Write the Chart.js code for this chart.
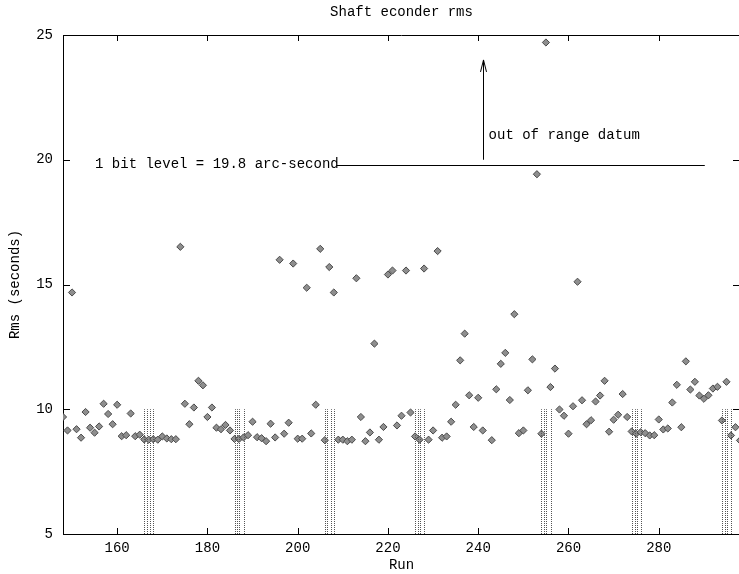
<!DOCTYPE html>
<html>
<head>
<meta charset="utf-8">
<title>Shaft econder rms</title>
<script src="https://cdn.jsdelivr.net/npm/chart.js@4.4.1/dist/chart.umd.min.js"></script>
<style>
  html, body { margin: 0; padding: 0; background: #fff; overflow: hidden; }
  #wrap { width: 745px; height: 574px; }
</style>
</head>
<body>
<div id="wrap"><canvas id="rms" width="745" height="574"></canvas></div>
<script>
// run numbers and the encoder rms for each run
const runs = [
    148, 149, 150, 151, 152, 153, 154, 155, 156, 157,
    158, 159, 160, 161, 162, 163, 164, 165, 166, 167,
    168, 169, 170, 171, 172, 173, 174, 175, 176, 177,
    178, 179, 180, 181, 182, 183, 184, 185, 186, 187,
    188, 189, 190, 191, 192, 193, 194, 195, 196, 197,
    198, 199, 200, 201, 202, 203, 204, 205, 206, 207,
    208, 209, 210, 211, 212, 213, 214, 215, 216, 217,
    218, 219, 220, 221, 222, 223, 224, 225, 226, 227,
    228, 229, 230, 231, 232, 233, 234, 235, 236, 237,
    238, 239, 240, 241, 243, 244, 245, 246, 247, 248,
    249, 250, 251, 252, 253, 254, 255, 256, 257, 258,
    259, 260, 261, 262, 263, 264, 265, 266, 267, 268,
    269, 270, 271, 272, 273, 274, 275, 276, 277, 278,
    279, 280, 281, 282, 283, 284, 285, 286, 287, 288,
    289, 290, 291, 292, 293, 294, 295, 296, 297, 298,
];
const rmsSeconds = [
    9.69, 9.15, 14.68, 9.2, 8.86, 9.89, 9.26, 9.06, 9.31, 10.22,
    9.81, 9.4, 10.18, 8.92, 8.96, 9.83, 8.92, 8.98, 8.79, 8.78,
    8.8, 8.78, 8.91, 8.83, 8.8, 8.8, 16.51, 10.22, 9.4, 10.07,
    11.14, 10.96, 9.69, 10.07, 9.26, 9.2, 9.37, 9.15, 8.81, 8.81,
    8.87, 8.96, 9.5, 8.88, 8.84, 8.72, 9.42, 8.87, 15.99, 9.02,
    9.46, 15.84, 8.82, 8.82, 14.87, 9.03, 10.18, 16.43, 8.76, 15.7,
    14.68, 8.78, 8.78, 8.72, 8.78, 15.25, 9.69, 8.72, 9.07, 12.63,
    8.78, 9.29, 15.4, 15.56, 9.35, 9.74, 15.56, 9.87, 8.91, 8.78,
    15.64, 8.78, 9.15, 16.34, 8.86, 8.91, 9.5, 10.18, 11.96, 13.03,
    10.56, 9.29, 10.46, 9.15, 8.76, 10.8, 11.82, 12.26, 10.37, 13.81,
    9.04, 9.15, 10.76, 12.0, 19.42, 9.02, 24.7, 10.89, 11.63, 9.99,
    9.74, 9.02, 10.12, 15.11, 10.36, 9.4, 9.56, 10.31, 10.55, 11.14,
    9.1, 9.58, 9.78, 10.61, 9.69, 9.11, 9.02, 9.08, 9.04, 8.95,
    8.96, 9.59, 9.19, 9.23, 10.27, 10.98, 9.28, 11.92, 10.79, 11.1,
    10.55, 10.42, 10.56, 10.83, 10.9, 9.55, 11.1, 8.95, 9.28, 8.75,
];

const xTickValues = [160, 180, 200, 220, 240, 260, 280];
const yTickValues = [5, 10, 15, 20, 25];

// dotted marker lines, four per group, drawn from the axis up to markerTop
const markerRuns = [
    166, 166.6, 167.25, 168,
    186, 186.55, 187.05, 188,
    206, 206.6, 207.3, 208,
    226, 226.6, 227.2, 227.9,
    253.9, 254.5, 255.05, 256.1,
    274.1, 274.7, 275.2, 276.1,
    294, 294.6, 295.2, 296.1,
];
const markerTop = 10;

// 1 bit level line and its label
const bitLevel = 19.8;
const bitLevelSpan = [208.7, 290.2];
const bitLevelLabel = "1 bit level = 19.8 arc-second";
const bitLevelLabelRun = 155.1;

// arrow pointing at the datum that is off the scale
const arrowRun = 241;
const arrowSpan = [20, 24];
const arrowLabel = "out of range datum";
const arrowLabelAt = [242.3, 21];

const FONT = { family: "'Liberation Mono', 'DejaVu Sans Mono', monospace", size: 14 };
const INK = "#000";

const gnuplotMarks = {
    id: "gnuplotMarks",
    afterDatasetsDraw(chart) {
        const { ctx, chartArea: a, scales } = chart;
        const x = scales.x;
        const y = scales.y;
        const snap = (v) => Math.round(v) + 0.5;

        ctx.save();
        ctx.strokeStyle = INK;
        ctx.lineWidth = 1;

        // top and right frame
        ctx.beginPath();
        ctx.moveTo(a.left, snap(a.top));
        ctx.lineTo(a.right, snap(a.top));
        ctx.moveTo(snap(a.right), a.top);
        ctx.lineTo(snap(a.right), a.bottom);
        ctx.stroke();

        // tick marks point into the plot on all four sides
        ctx.beginPath();
        xTickValues.forEach((v) => {
            const px = snap(x.getPixelForValue(v));
            ctx.moveTo(px, a.bottom);
            ctx.lineTo(px, a.bottom - 6);
            ctx.moveTo(px, a.top);
            ctx.lineTo(px, a.top + 6);
        });
        yTickValues.forEach((v) => {
            const py = snap(y.getPixelForValue(v));
            ctx.moveTo(a.left, py);
            ctx.lineTo(a.left + 7, py);
            ctx.moveTo(a.right, py);
            ctx.lineTo(a.right - 7, py);
        });
        ctx.stroke();

        // dotted marker lines
        ctx.save();
        ctx.strokeStyle = "#555";
        ctx.setLineDash([1, 1]);
        ctx.beginPath();
        markerRuns.forEach((r) => {
            const px = snap(x.getPixelForValue(r));
            ctx.moveTo(px, a.bottom);
            ctx.lineTo(px, y.getPixelForValue(markerTop));
        });
        ctx.stroke();
        ctx.restore();

        // 1 bit level line
        const lvl = snap(y.getPixelForValue(bitLevel));
        ctx.beginPath();
        ctx.moveTo(x.getPixelForValue(bitLevelSpan[0]), lvl);
        ctx.lineTo(x.getPixelForValue(bitLevelSpan[1]), lvl);
        ctx.stroke();

        // arrow
        const ax = snap(x.getPixelForValue(arrowRun));
        const ay0 = y.getPixelForValue(arrowSpan[0]);
        const ay1 = y.getPixelForValue(arrowSpan[1]);
        ctx.beginPath();
        ctx.moveTo(ax, ay0);
        ctx.lineTo(ax, ay1);
        ctx.moveTo(ax - 3, ay1 + 12);
        ctx.lineTo(ax, ay1);
        ctx.lineTo(ax + 3, ay1 + 12);
        ctx.stroke();

        // labels
        ctx.fillStyle = INK;
        ctx.font = FONT.size + "px " + FONT.family;
        ctx.textAlign = "left";
        ctx.textBaseline = "middle";
        ctx.fillText(bitLevelLabel, x.getPixelForValue(bitLevelLabelRun), y.getPixelForValue(bitLevel));
        ctx.fillText(arrowLabel, x.getPixelForValue(arrowLabelAt[0]), y.getPixelForValue(arrowLabelAt[1]));
        ctx.restore();
    },
};

const points = runs.map((r, i) => ({ x: r, y: rmsSeconds[i] }));

new Chart(document.getElementById("rms").getContext("2d"), {
    type: "scatter",
    data: {
        datasets: [
            {
                label: "rms",
                data: points,
                pointStyle: "rectRot",
                pointRadius: 3.6,
                backgroundColor: "#8e8e8e",
                borderColor: "#4a4a4a",
                borderWidth: 1,
            },
        ],
    },
    options: {
        responsive: false,
        animation: false,
        events: [],
        layout: { padding: { left: 0, right: 1.5, top: 0, bottom: 0 } },
        plugins: {
            legend: { display: false },
            tooltip: { enabled: false },
        },
        scales: {
            x: {
                type: "linear",
                position: "bottom",
                min: 148,
                max: 298,
                afterBuildTicks: (axis) => {
                    axis.ticks = xTickValues.map((v) => ({ value: v }));
                },
                afterFit: (scale) => {
                    scale.height = 40;
                },
                grid: { display: false, drawTicks: false },
                border: { display: true, color: INK, width: 1 },
                ticks: { color: INK, font: FONT, padding: 6, maxRotation: 0 },
                title: {
                    display: true,
                    text: "Run",
                    color: INK,
                    font: FONT,
                    padding: { top: 0, bottom: 0 },
                },
            },
            x2: {
                type: "linear",
                position: "top",
                min: 148,
                max: 298,
                afterFit: (scale) => {
                    scale.height = 35;
                },
                grid: { display: false, drawTicks: false },
                border: { display: false },
                ticks: { display: false },
                title: {
                    display: true,
                    text: "Shaft econder rms",
                    color: INK,
                    font: FONT,
                    padding: { top: 4, bottom: 0 },
                },
            },
            y: {
                type: "linear",
                position: "left",
                min: 5,
                max: 25,
                afterBuildTicks: (axis) => {
                    axis.ticks = yTickValues.map((v) => ({ value: v }));
                },
                afterFit: (scale) => {
                    scale.width = 63;
                },
                grid: { display: false, drawTicks: false },
                border: { display: true, color: INK, width: 1 },
                ticks: { color: INK, font: FONT, padding: 10 },
                title: {
                    display: true,
                    text: "Rms (seconds)",
                    color: INK,
                    font: FONT,
                    padding: { top: 7, bottom: 0 },
                },
            },
        },
    },
    plugins: [gnuplotMarks],
});
</script>
</body>
</html>
